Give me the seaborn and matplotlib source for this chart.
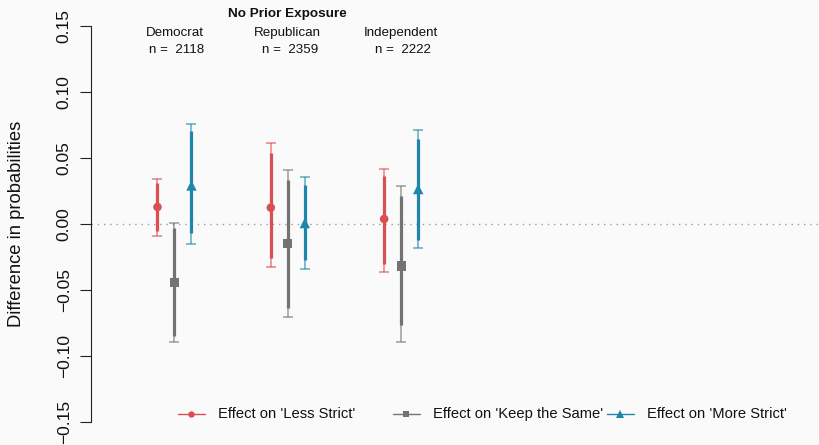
import numpy as np
import pandas as pd
import matplotlib
matplotlib.use("Agg")
import matplotlib.pyplot as plt
from matplotlib.lines import Line2D
import seaborn as sns

# Groups and sample sizes
parties = ["Democrat", "Republican", "Independent"]
sample_sizes = [2118, 2359, 2222]
outcomes = ["Effect on 'Less Strict'", "Effect on 'Keep the Same'", "Effect on 'More Strict'"]

# Point estimates per party (rows) and outcome (columns)
estimates = [
    [0.0129, -0.0442, 0.0292],
    [0.0124, -0.0146, 0.0007],
    [0.0038, -0.0318, 0.0265],
]
# Wide intervals (thin, capped)
outer_low = [
    [-0.0089, -0.0892, -0.0149],
    [-0.0328, -0.0705, -0.0339],
    [-0.0364, -0.0892, -0.0180],
]
outer_high = [
    [0.0339, 0.0005, 0.0758],
    [0.0612, 0.0409, 0.0359],
    [0.0417, 0.0290, 0.0713],
]
# Narrow intervals (thick)
inner_low = [
    [-0.0051, -0.0849, -0.0071],
    [-0.0260, -0.0639, -0.0273],
    [-0.0303, -0.0766, -0.0121],
]
inner_high = [
    [0.0309, -0.0030, 0.0707],
    [0.0541, 0.0334, 0.0296],
    [0.0364, 0.0212, 0.0642],
]

colors = ["#DA4F52", "#737373", "#1E86AA"]
markers = ["o", "s", "^"]
sizes = [38, 44, 56]
offsets = [-0.15, 0.0, 0.15]

rows = []
for i, party in enumerate(parties):
    for j, outcome in enumerate(outcomes):
        rows.append(dict(party=party, outcome=outcome,
                         xpos=i + 1 + offsets[j],
                         est=estimates[i][j],
                         lo95=outer_low[i][j], hi95=outer_high[i][j],
                         lo90=inner_low[i][j], hi90=inner_high[i][j]))
df = pd.DataFrame(rows)

sns.set_style("white")
plt.rcParams["font.family"] = ["Liberation Sans", "DejaVu Sans"]

bg = "#FAFAFA"
fig = plt.figure(figsize=(8.2, 4.45), dpi=100, facecolor=bg)
ax = fig.add_axes([0.1106, 0.0164, 0.8894, 0.9604], facecolor=bg)

ax.axhline(0, color="#9a9a9a", lw=1.0, ls=(0, (1, 3.5)), zorder=1)

for j, outcome in enumerate(outcomes):
    sub = df[df["outcome"] == outcome]
    ax.errorbar(sub["xpos"], sub["est"],
                yerr=[sub["est"] - sub["lo95"], sub["hi95"] - sub["est"]],
                fmt="none", ecolor=colors[j], alpha=0.55, elinewidth=1.4,
                capsize=3.6, capthick=1.4, zorder=2)
    ax.vlines(sub["xpos"], sub["lo90"], sub["hi90"], color=colors[j],
              lw=2.3, zorder=3)

sns.scatterplot(data=df, x="xpos", y="est", hue="outcome", style="outcome",
                hue_order=outcomes, style_order=outcomes,
                palette=dict(zip(outcomes, colors)),
                markers=dict(zip(outcomes, markers)),
                size="outcome", sizes=dict(zip(outcomes, sizes)),
                edgecolor="none", linewidth=0, legend=False, ax=ax, zorder=4)

ax.set_xlim(0.261, 6.695)
ax.set_ylim(-0.162, 0.162)
ax.set_xticks([])
ax.set_xlabel("")
ax.set_ylabel("")
yt = [-0.15, -0.10, -0.05, 0.0, 0.05, 0.10, 0.15]
ax.set_yticks(yt)
ax.set_yticklabels(["\u22120.15", "\u22120.10", "\u22120.05", "0.00", "0.05", "0.10", "0.15"],
                   rotation=90, va="center", fontsize=12.5)
ax.tick_params(axis="y", left=True, length=7.7, width=0.8, color="#222222",
               pad=6.0, labelcolor="#111111")
for s in ["top", "right", "bottom"]:
    ax.spines[s].set_visible(False)
ax.spines["left"].set_bounds(-0.15, 0.15)
ax.spines["left"].set_color("#222222")
ax.spines["left"].set_linewidth(0.8)

fig.text(16.5 / 820, 0.4978, "Difference in probabilities", rotation=90,
         ha="center", va="center", fontsize=13.2, color="#111111")

# Header: title, party names, sample sizes
ax.text(2, 0.1593, "No Prior Exposure", ha="center", va="center",
        fontsize=9.7, fontweight="bold", color="#111111")
for i, (party, n) in enumerate(zip(parties, sample_sizes)):
    ax.text(i + 1, 0.1449, party, ha="center", va="center", fontsize=9.6, color="#111111")
    ax.text(i + 1.02, 0.1321, f"n =  {n}", ha="center", va="center", fontsize=9.6, color="#111111")

# Legend row along the bottom
leg_y = 1 - 413.7 / 445
line_starts = [178, 393, 607]
for j, outcome in enumerate(outcomes):
    x0 = line_starts[j] / 820
    x1 = (line_starts[j] + 27) / 820
    fig.add_artist(Line2D([x0, x1], [leg_y, leg_y], transform=fig.transFigure,
                          color=colors[j], lw=1.0))
    fig.add_artist(Line2D([(x0 + x1) / 2], [leg_y], transform=fig.transFigure,
                          color=colors[j], marker=markers[j], markersize=5.2 if j == 2 else 4.6,
                          markeredgewidth=0, lw=0))
    fig.text((line_starts[j] + 40) / 820, leg_y, outcome, ha="left", va="center",
             fontsize=10.6, color="#111111")

fig.savefig("out.png", dpi=100, facecolor=bg)
